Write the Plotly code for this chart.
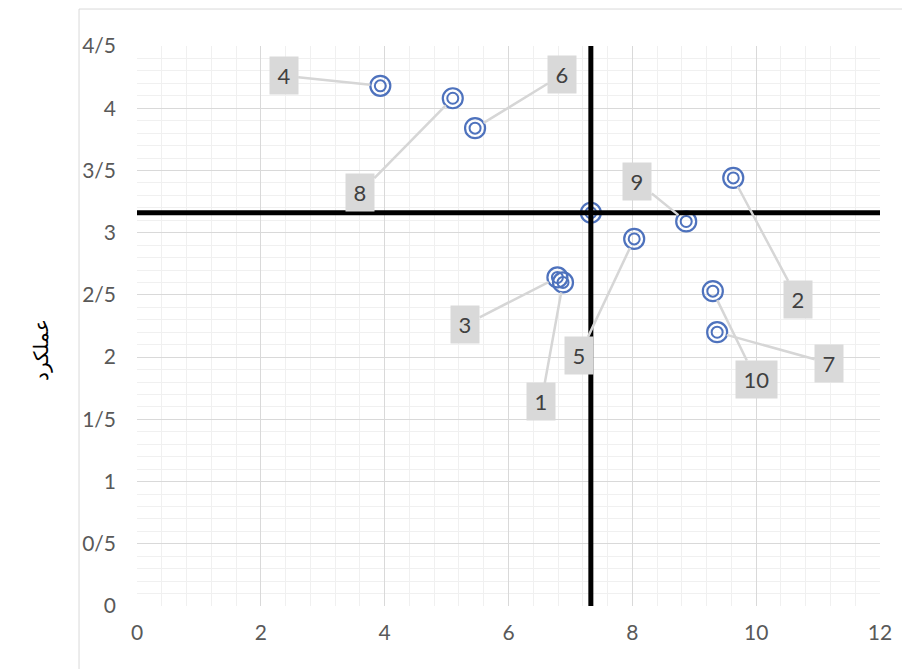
import plotly.graph_objects as go

# ---- data ----
labels = ["1", "2", "3", "4", "5", "6", "7", "8", "9", "10"]
x_vals = [6.88, 9.63, 6.79, 3.93, 8.03, 5.46, 9.37, 5.10, 8.87, 9.30]
y_vals = [2.60, 3.44, 2.64, 4.18, 2.95, 3.84, 2.20, 4.08, 3.09, 2.53]
# label box positions (data coords)
lab_x = [6.53, 10.68, 5.30, 2.37, 7.14, 6.87, 11.18, 3.60, 8.08, 10.00]
lab_y = [1.64, 2.46, 2.26, 4.26, 2.01, 4.27, 1.95, 3.32, 3.41, 1.82]
mean_x = 7.33
mean_y = 3.16
x_ticks = [0, 2, 4, 6, 8, 10, 12]
y_ticks = [0, 0.5, 1, 1.5, 2, 2.5, 3, 3.5, 4, 4.5]
y_tick_text = ["0", "0/5", "1", "1/5", "2", "2/5", "3", "3/5", "4", "4/5"]
y_title = "عملکرد"

BLUE = "#4e72bd"
FONT = "Lato"

fig = go.Figure()

# markers (double ring)
all_x = x_vals + [mean_x]
all_y = y_vals + [mean_y]
fig.add_trace(go.Scatter(x=all_x, y=all_y, mode="markers", hoverinfo="skip",
                         marker=dict(symbol="circle-open", size=20, color=BLUE,
                                     line=dict(width=2.2, color=BLUE))))
fig.add_trace(go.Scatter(x=all_x, y=all_y, mode="markers", hoverinfo="skip",
                         marker=dict(symbol="circle-open", size=11, color=BLUE,
                                     line=dict(width=2, color=BLUE))))

# mean lines
fig.add_trace(go.Scatter(x=[mean_x, mean_x], y=[0, 4.5], mode="lines",
                         line=dict(color="black", width=5), hoverinfo="skip"))
fig.add_trace(go.Scatter(x=[0, 12], y=[mean_y, mean_y], mode="lines",
                         line=dict(color="black", width=5), hoverinfo="skip"))

# labels with leader lines
for lb, px, py, lx, ly in zip(labels, x_vals, y_vals, lab_x, lab_y):
    fig.add_annotation(x=px, y=py, ax=lx, ay=ly, axref="x", ayref="y",
                       xref="x", yref="y", text=lb, showarrow=True,
                       arrowhead=0, arrowwidth=2.5, arrowcolor="#d6d6d6",
                       standoff=10, bgcolor="#d9d9d9", borderpad=5,
                       width=18 if len(lb) == 1 else 31, height=27,
                       font=dict(family=FONT, size=22, color="#404040"))

# y-axis title
fig.add_annotation(x=-0.1306, y=0.457, xref="paper", yref="paper",
                   text=y_title, showarrow=False, textangle=-90,
                   xanchor="center", yanchor="middle",
                   font=dict(family="Noto Sans", size=20, color="black"))

# chart area border
fig.add_shape(type="line", xref="paper", yref="paper", x0=-0.078, x1=-0.078,
              y0=-0.2, y1=1.066, line=dict(color="#d9d9d9", width=1))
fig.add_shape(type="line", xref="paper", yref="paper", x0=-0.078, x1=1.2,
              y0=1.066, y1=1.066, line=dict(color="#d9d9d9", width=1))

fig.update_layout(
    width=902, height=661,
    margin=dict(l=129, r=30, t=38, b=63, autoexpand=False),
    paper_bgcolor="white", plot_bgcolor="white",
    showlegend=False,
    font=dict(family=FONT, size=21, color="#595959"),
)
fig.update_xaxes(range=[0, 12], tickvals=x_ticks, showgrid=True,
                 gridcolor="#d9d9d9", gridwidth=1, zeroline=False,
                 showline=False, ticks="", ticklabelstandoff=12,
                 automargin=False,
                 minor=dict(dtick=0.4, showgrid=True, gridcolor="#f0f0f0", gridwidth=1),
                 tickfont=dict(family=FONT, size=21, color="#595959"))
fig.update_yaxes(range=[0, 4.5], tickvals=y_ticks, ticktext=y_tick_text,
                 showgrid=True, gridcolor="#d9d9d9", gridwidth=1,
                 zeroline=False, showline=False, ticks="",
                 ticklabelstandoff=20, automargin=False,
                 minor=dict(dtick=0.1, showgrid=True, gridcolor="#f0f0f0", gridwidth=1),
                 tickfont=dict(family=FONT, size=21, color="#595959"))

fig.write_html("out.html")
